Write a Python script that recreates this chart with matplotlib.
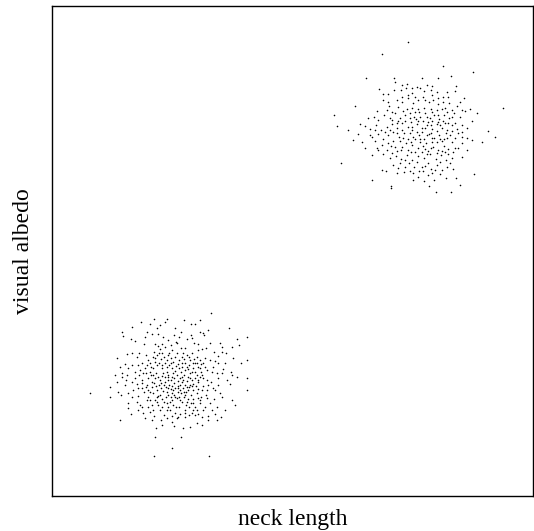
import matplotlib
matplotlib.use("Agg")
import matplotlib.pyplot as plt

plt.rcParams['font.family'] = ['Liberation Serif', 'DejaVu Serif']

# lower-left group (neck length, visual albedo), arbitrary units
group_a_x = [477, 306, 344, 339, 395, 416, 429, 444, 266, 295, 211, 239, 285, 314, 325, 369, 367, 386, 382, 417,
             444, 455, 452, 469, 531, 586, 554, 236, 213, 248, 279, 300, 319, 334, 349, 371, 376, 406, 421, 426,
             439, 474, 505, 509, 539, 562, 509, 277, 262, 308, 319, 331, 357, 306, 324, 339, 361, 386, 399, 437,
             449, 461, 486, 497, 521, 544, 566, 586, 224, 239, 255, 283, 289, 309, 329, 347, 357, 369, 389, 406,
             415, 427, 444, 459, 474, 489, 499, 519, 194, 219, 204, 241, 259, 271, 296, 314, 321, 339, 352, 359,
             379, 389, 399, 412, 424, 436, 446, 459, 466, 479, 494, 514, 536, 554, 584, 189, 209, 226, 249, 262,
             281, 294, 304, 317, 334, 345, 361, 374, 387, 397, 409, 419, 434, 447, 454, 477, 499, 524, 539, 174,
             194, 222, 239, 256, 269, 284, 299, 311, 327, 339, 351, 365, 377, 389, 399, 412, 424, 439, 454, 464,
             482, 504, 534, 584, 114, 174, 199, 207, 227, 244, 259, 277, 289, 304, 319, 334, 347, 361, 374, 387,
             401, 417, 434, 447, 461, 487, 509, 539, 549, 229, 254, 271, 284, 299, 314, 329, 344, 359, 371, 389,
             402, 417, 429, 444, 459, 474, 494, 519, 229, 259, 274, 294, 307, 324, 337, 354, 369, 384, 399, 411,
             424, 439, 451, 467, 489, 507, 204, 236, 279, 299, 327, 344, 359, 374, 399, 429, 469, 494, 329, 367,
             394, 414, 434, 451, 311, 309, 386, 359, 306, 471,
             314, 327, 344, 364, 381, 397, 411, 429, 304, 331, 344, 369, 381, 407, 419, 437, 309, 324, 349, 357,
             384, 394, 404, 429, 444, 314, 327, 342, 357, 369, 384, 394, 409, 424, 439, 314, 329, 341, 357, 367,
             382, 397, 409, 424, 437, 299, 287, 269, 289, 274, 264, 284, 364, 349, 339, 399, 414, 429, 384, 404,
             419, 359, 344, 377, 399, 319, 349, 364, 381, 411,
             304, 321, 336, 351, 374, 394, 419, 434, 294, 309, 331, 357, 371, 391, 404, 424, 444, 454, 279, 297,
             311, 329, 347, 367, 379, 391, 414, 437, 449, 464, 269, 281, 294, 307, 321, 337, 349, 364, 379, 397,
             414, 431, 449, 469, 294, 309, 324, 337, 354, 369, 384, 404, 424, 444, 464, 249, 259, 239, 264, 289,
             304, 344, 361, 379, 399, 419, 434, 454, 479, 489, 499, 509, 484, 219, 209, 229]
group_a_y = [550, 530, 531, 523, 528, 516, 516, 528, 523, 515, 493, 506, 493, 503, 513, 503, 483, 493, 478, 483,
             493, 483, 490, 498, 503, 478, 470, 471, 480, 466, 478, 486, 486, 478, 468, 461, 458, 470, 473, 458,
             455, 458, 460, 448, 446, 453, 431, 455, 430, 455, 451, 456, 452, 433, 440, 448, 438, 443, 443, 438,
             441, 443, 433, 420, 430, 413, 398, 408, 426, 428, 418, 423, 408, 413, 428, 423, 413, 418, 418, 423,
             408, 410, 408, 413, 408, 406, 398, 398, 413, 395, 386, 393, 393, 398, 388, 393, 400, 398, 393, 383,
             396, 388, 400, 393, 383, 400, 396, 388, 378, 373, 368, 380, 372, 358, 353, 363, 368, 363, 373, 363,
             368, 373, 363, 358, 368, 373, 358, 363, 373, 363, 358, 348, 363, 373, 353, 343, 353, 348, 363, 328,
             343, 348, 343, 336, 348, 333, 343, 330, 338, 343, 333, 340, 330, 343, 333, 326, 336, 343, 330, 318,
             323, 308, 336, 318, 308, 298, 313, 303, 308, 318, 300, 313, 296, 308, 300, 316, 303, 310, 293, 308,
             313, 303, 308, 296, 303, 290, 298, 288, 273, 278, 283, 268, 288, 273, 283, 268, 278, 288, 268, 283,
             273, 280, 268, 278, 268, 280, 268, 258, 263, 258, 248, 253, 240, 258, 243, 258, 250, 246, 258, 243,
             258, 246, 238, 240, 246, 236, 228, 246, 233, 228, 228, 233, 223, 233, 238, 243, 228, 228, 213, 210,
             203, 206, 218, 213, 203, 178, 178, 143, 120, 121,
             423, 410, 408, 403, 408, 410, 418, 398, 383, 383, 388, 376, 383, 380, 373, 386, 353, 348, 358, 348,
             353, 348, 346, 353, 358, 318, 323, 326, 320, 323, 318, 323, 318, 318, 320, 296, 290, 296, 296, 303,
             296, 296, 290, 290, 293, 328, 318, 323, 353, 368, 378, 393, 368, 363, 358, 378, 368, 373, 333, 328,
             330, 330, 313, 313, 303, 273, 268, 273, 268, 266,
             418, 428, 418, 430, 428, 428, 428, 418, 398, 403, 393, 400, 390, 398, 388, 398, 383, 398, 383, 363,
             368, 360, 348, 353, 346, 358, 353, 348, 363, 348, 338, 328, 313, 338, 333, 333, 323, 318, 323, 313,
             333, 330, 318, 333, 288, 288, 303, 283, 283, 296, 288, 283, 278, 288, 293, 353, 323, 298, 273, 268,
             258, 258, 240, 238, 248, 248, 258, 258, 258, 318, 333, 368, 388, 333, 358, 383]

# upper-right group
group_b_x = [1069, 989, 1174, 1262, 942, 1026, 1109, 1159, 1196, 1029, 1064, 1094, 1124, 1139, 1211, 981, 992, 1009,
             1027, 1047, 1061, 1081, 1104, 1117, 1137, 1154, 1184, 1189, 1209, 1237, 909, 974, 994, 1012, 1034,
             1051, 1067, 1082, 1097, 1114, 1131, 1144, 1159, 1174, 1191, 1214, 1224, 1254, 1274, 1352, 847, 924,
             939, 967, 979, 997, 1014, 1029, 1044, 1059, 1074, 1089, 1104, 1119, 1134, 1147, 1161, 1177, 1191,
             1207, 1224, 1239, 1259, 1309, 854, 889, 919, 954, 971, 987, 1004, 1019, 1034, 1049, 1067, 1081,
             1094, 1109, 1124, 1139, 1154, 1169, 1184, 1199, 1214, 1229, 1244, 904, 931, 959, 979, 994, 1009,
             1024, 1041, 1057, 1069, 1084, 1101, 1117, 1131, 1147, 1161, 1177, 1194, 1209, 1229, 1259, 1289,
             1329, 939, 974, 989, 1004, 1017, 1034, 1051, 1067, 1081, 1097, 1114, 1129, 1144, 1159, 1175, 1189,
             1204, 1219, 1244, 1229, 959, 994, 1014, 1031, 1047, 1064, 1081, 1099, 1117, 1134, 1151, 1167, 1181,
             1199, 867, 991, 1024, 1039, 1057, 1071, 1087, 1102, 1119, 1137, 1154, 1169, 1184, 1204, 959, 1002,
             1084, 1099, 1116, 1129, 1147, 1164, 1181, 1211, 1267, 1017, 1016, 1131, 1151, 1197, 1224,
             1064, 1081, 1099, 1117, 1137, 1154, 1169, 1049, 1077, 1091, 1114, 1129, 1141, 1157, 1174, 1061,
             1077, 1104, 1121, 1139, 1154, 1169, 1044, 1024, 1039, 1089, 1111, 1137, 1154, 1077, 1109, 1124,
             1184, 1199, 1019, 1004, 1199, 1189, 1059, 1074, 1114, 1149, 1119, 1089, 1049, 1159, 1179,
             1039, 1054, 1074, 1087, 1102, 1124, 1141, 1157, 1184, 1199, 1019, 1034, 1059, 1079, 1099, 1119,
             1137, 1164, 1179, 1209, 1229, 999, 1014, 1034, 1054, 1074, 1094, 1104, 1124, 1139, 1164, 1181,
             1199, 1217, 1244, 969, 1009, 1029, 1047, 1089, 1119, 1137, 1154, 1169, 1189, 1209, 1229, 979,
             1019, 1059, 1094, 1129, 1164, 1179, 1044, 1109, 1194, 1139, 1084, 1034, 1069, 1139, 1174, 1009,
             1079, 1049, 1229, 949, 954, 969]
group_b_y = [1361, 1326, 1291, 1271, 1253, 1255, 1255, 1255, 1260, 1243, 1235, 1228, 1233, 1231, 1231, 1221, 1205,
             1205, 1218, 1218, 1223, 1208, 1223, 1215, 1218, 1211, 1213, 1198, 1215, 1195, 1171, 1155, 1188,
             1170, 1188, 1183, 1193, 1178, 1188, 1198, 1183, 1188, 1193, 1183, 1178, 1171, 1183, 1161, 1148,
             1163, 1143, 1115, 1111, 1138, 1128, 1143, 1133, 1148, 1135, 1143, 1133, 1151, 1138, 1148, 1135,
             1143, 1131, 1143, 1135, 1148, 1138, 1155, 1125, 1095, 1111, 1098, 1085, 1101, 1113, 1098, 1108,
             1115, 1103, 1118, 1108, 1098, 1115, 1105, 1113, 1101, 1115, 1105, 1098, 1113, 1101, 1093, 1103,
             1068, 1063, 1078, 1085, 1071, 1083, 1065, 1078, 1088, 1071, 1078, 1083, 1071, 1085, 1073, 1083,
             1071, 1083, 1073, 1078, 1068, 1061, 1078, 1043, 1045, 1053, 1038, 1051, 1035, 1048, 1038, 1053,
             1043, 1051, 1035, 1048, 1038, 1051, 1041, 1033, 1043, 1038, 1018, 1023, 1025, 1013, 1021, 1011,
             1023, 1008, 1021, 1013, 1025, 1011, 1023, 1008, 1015, 998, 978, 993, 983, 973, 998, 988, 975, 991,
             981, 993, 978, 988, 981, 948, 975, 948, 958, 945, 963, 948, 965, 955, 953, 965, 931, 923, 931, 913,
             911, 933,
             1161, 1165, 1161, 1165, 1161, 1158, 1161, 1098, 1121, 1131, 1125, 1121, 1125, 1121, 1125, 1058,
             1061, 1061, 1058, 1061, 1061, 1065, 1065, 1091, 1125, 1071, 1093, 1088, 1095, 1033, 1031, 1025,
             1073, 1063, 1153, 1158, 1158, 1118, 988, 975, 975, 978, 1188, 1198, 1198, 1175, 1163,
             1168, 1155, 1148, 1138, 1151, 1138, 1151, 1143, 1153, 1138, 1128, 1118, 1125, 1108, 1125, 1103,
             1113, 1113, 1118, 1118, 1113, 1093, 1098, 1088, 1073, 1088, 1093, 1071, 1083, 1075, 1071, 1088,
             1095, 1088, 1073, 1065, 1058, 1048, 1038, 1031, 1041, 1045, 1028, 1035, 1025, 1045, 1058, 1038,
             1028, 1008, 1003, 998, 1003, 1033, 998, 988, 998, 968, 968, 968, 1203, 1203, 1198, 1183,
             1223, 1233, 1158, 1133, 1083, 1098]

fig = plt.figure(figsize=(5.34, 5.31), dpi=100)
ax = fig.add_axes([52 / 534, 35 / 531, 481 / 534, 490 / 531])

ax.scatter(group_a_x, group_a_y, s=1.3, c='black', linewidths=0)
ax.scatter(group_b_x, group_b_y, s=1.3, c='black', linewidths=0)

ax.set_xlim(0, 1443)
ax.set_ylim(0, 1470)
ax.set_xticks([])
ax.set_yticks([])
for sp in ax.spines.values():
    sp.set_linewidth(1.0)

ax.set_xlabel('neck length', fontsize=17, labelpad=9.5)
ax.set_ylabel('visual albedo', fontsize=17, labelpad=13)

fig.savefig('out.png', dpi=100)
